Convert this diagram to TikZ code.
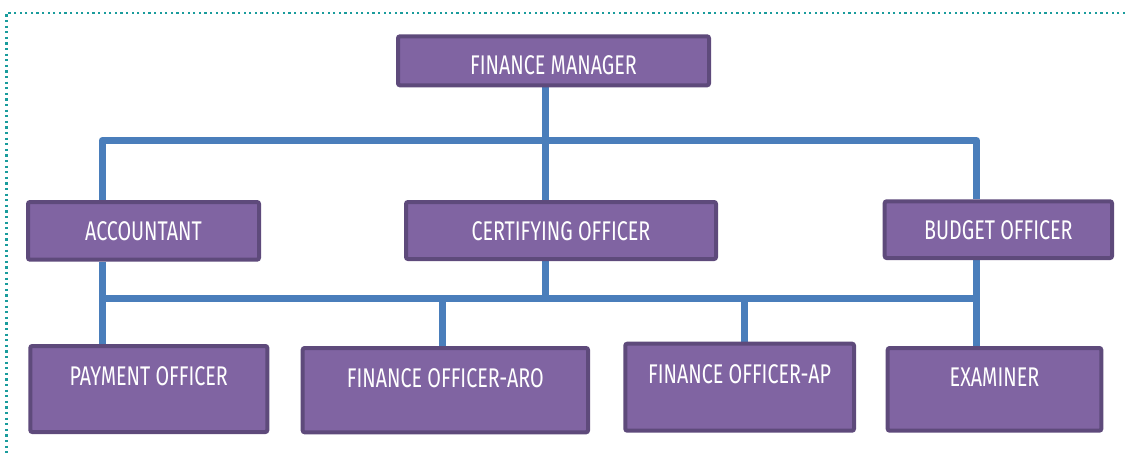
\documentclass[tikz,border=0pt]{standalone}
\usepackage{fontspec}
\setmainfont[FakeStretch=0.73]{Fira Sans}
\usetikzlibrary{backgrounds}
\definecolor{boxfill}{HTML}{8064A2}
\definecolor{boxline}{HTML}{5E4A7B}
\definecolor{connblue}{HTML}{4A7EBB}
\definecolor{frameteal}{HTML}{1A9C9C}
\newcommand{\boxtext}[2]{\raisebox{#1}[0pt][0pt]{#2}}
\tikzset{
  orgbox/.style={draw=boxline, fill=boxfill, line width=4pt, rounded corners=2pt,
    inner sep=0pt, text=white, font=\fontsize{27}{29}\selectfont},
  conn/.style={draw=connblue, line width=7pt, line join=round},
  frame/.style={draw=frameteal, line width=2.2pt, dash pattern=on 2.2pt off 3.4pt}
}
\begin{document}
\begin{tikzpicture}[x=1pt,y=-1pt]
\useasboundingbox (0,0) rectangle (1125,455);
% dotted frame
\coordinate (fTL) at (6.5,13);
\coordinate (fTR) at (1125,13);
\coordinate (fBL) at (6.5,455);
\draw[frame] (fTR) -- (fTL) -- (fBL);
% boxes
\node[orgbox, minimum width=311pt, minimum height=49pt] (fm) at (553.5,60.8) {\boxtext{-13.5pt}{FINANCE MANAGER}};
\node[orgbox, minimum width=231pt, minimum height=57.7pt] (acc) at (143.5,230.85) {\boxtext{-9.3pt}{ACCOUNTANT}};
\node[orgbox, minimum width=310pt, minimum height=57pt] (cert) at (561,230.5) {\boxtext{-9.5pt}{CERTIFYING OFFICER}};
\node[orgbox, minimum width=227.3pt, minimum height=56.7pt] (bud) at (998.35,229.65) {\boxtext{-10.3pt}{BUDGET OFFICER}};
\node[orgbox, minimum width=237pt, minimum height=86pt] (pay) at (148.8,389) {\boxtext{4pt}{PAYMENT OFFICER}};
\node[orgbox, minimum width=285.3pt, minimum height=84.3pt] (aro) at (445.35,390.15) {\boxtext{3.1pt}{FINANCE OFFICER-ARO}};
\node[orgbox, minimum width=228.7pt, minimum height=87pt] (ap) at (739.65,387.2) {\boxtext{4pt}{FINANCE OFFICER-AP}};
\node[orgbox, minimum width=213.6pt, minimum height=82.7pt] (exam) at (994.5,389.35) {\boxtext{3.1pt}{EXAMINER}};
% bus points
\coordinate (b1) at (545.5,140.5);
\coordinate (j1L) at (102,140.5);
\coordinate (j1R) at (976.5,140.5);
\coordinate (j2L) at (102,298.5);
\coordinate (j2R) at (976.5,298.5);
\coordinate (dAro) at (442.5,298.5);
\coordinate (dAp) at (744.5,298.5);
\begin{scope}[on background layer]
\draw[conn] (fm.south -| b1) -- (cert.north -| b1);
\draw[conn] (acc.north -| j1L) -- (j1L) -- (j1R) -- (bud.north -| j1R);
\draw[conn] (pay.north -| j2L) -- (acc.south -| j2L);
\draw[conn] (j2L) -- (j2R);
\draw[conn] (cert.south -| b1) -- (b1 |- j2L);
\draw[conn] (bud.south -| j2R) -- (exam.north -| j2R);
\draw[conn] (dAro) -- (aro.north -| dAro);
\draw[conn] (dAp) -- (ap.north -| dAp);
\end{scope}
\end{tikzpicture}
\end{document}
